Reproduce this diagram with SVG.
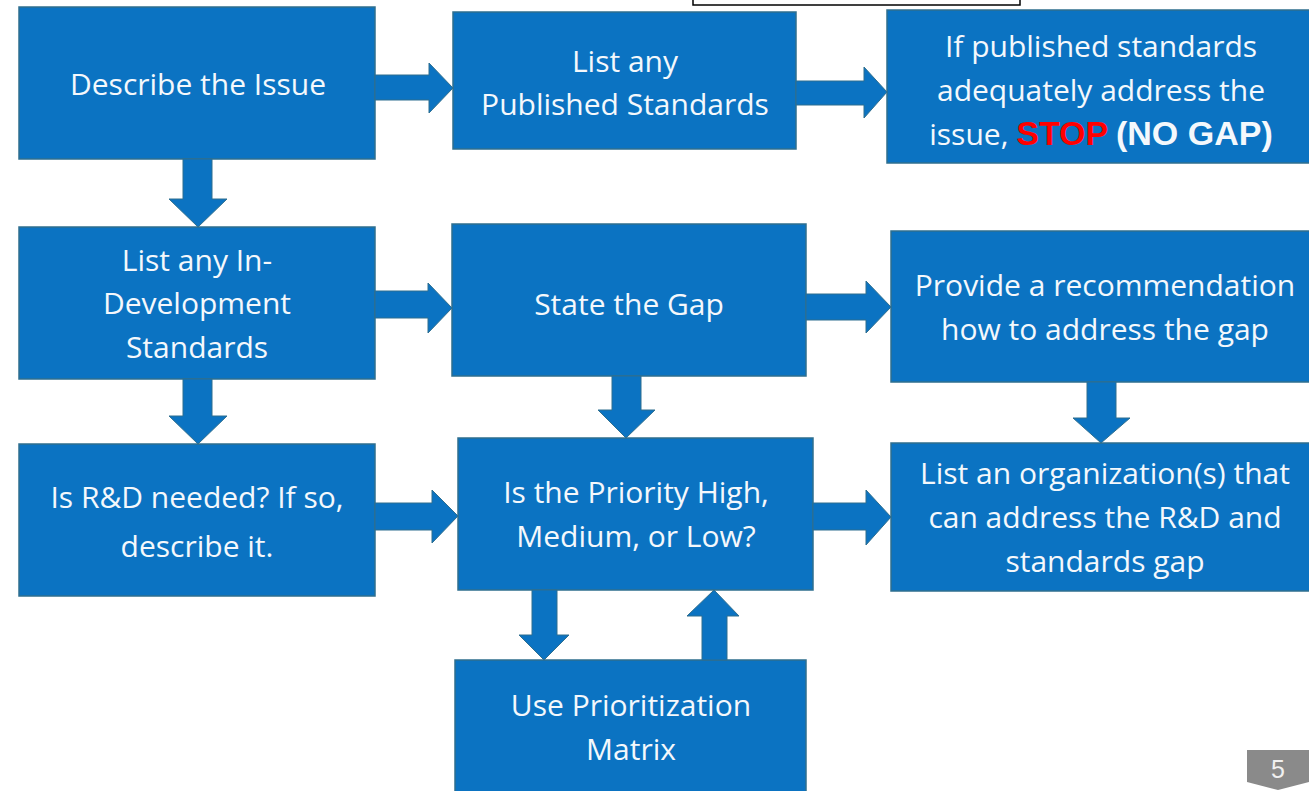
<svg xmlns="http://www.w3.org/2000/svg" width="1309" height="791" viewBox="0 0 1309 791">
<style>
.box{fill:#0b73c2;stroke:#2f6f8f;stroke-width:1.5}
.arr{fill:#0b73c2;stroke:#2f6f8f;stroke-width:1}
.t{font-family:"Open Sans","Noto Sans",sans-serif;font-size:30px;fill:#f4f8fc;text-anchor:middle}
.b{font-family:"Liberation Sans",Arial,sans-serif;font-weight:bold;font-size:34px}
</style>
<rect x="0" y="0" width="1309" height="791" fill="#ffffff"/>
<rect x="693" y="-2" width="327" height="7" fill="#ffffff" stroke="#000" stroke-width="1.5"/>
<g id="n1"><rect class="box" x="19" y="7" width="356" height="152"/><text class="t" x="198" y="95">Describe the Issue</text></g>
<g id="n2"><rect class="box" x="453" y="12" width="343" height="137"/><text class="t" x="625" y="72">List any</text><text class="t" x="625" y="115">Published Standards</text></g>
<g id="n3"><rect class="box" x="887" y="10" width="424" height="153"/><text class="t" x="1101" y="57">If published standards</text><text class="t" x="1101" y="101">adequately address the</text><text class="t" x="1101" y="145">issue, <tspan class="b" fill="#ff0000">STOP</tspan> <tspan class="b">(NO GAP)</tspan></text></g>
<g id="n4"><rect class="box" x="19" y="227" width="356" height="152"/><text class="t" x="197" y="271">List any In-</text><text class="t" x="197" y="314">Development</text><text class="t" x="197" y="358">Standards</text></g>
<g id="n5"><rect class="box" x="452" y="224" width="354" height="152"/><text class="t" x="629" y="315">State the Gap</text></g>
<g id="n6"><rect class="box" x="891" y="231" width="420" height="151"/><text class="t" x="1105" y="296">Provide a recommendation</text><text class="t" x="1105" y="340">how to address the gap</text></g>
<g id="n7"><rect class="box" x="19" y="444" width="356" height="152"/><text class="t" x="197" y="508">Is R&amp;D needed? If so,</text><text class="t" x="197" y="557">describe it.</text></g>
<g id="n8"><rect class="box" x="458" y="438" width="355" height="152"/><text class="t" x="636" y="503">Is the Priority High,</text><text class="t" x="636" y="547">Medium, or Low?</text></g>
<g id="n9"><rect class="box" x="891" y="443" width="420" height="148"/><text class="t" x="1105" y="484">List an organization(s) that</text><text class="t" x="1105" y="528">can address the R&amp;D and</text><text class="t" x="1105" y="572">standards gap</text></g>
<g id="n10"><rect class="box" x="455" y="660" width="351" height="135"/><text class="t" x="631" y="716">Use Prioritization</text><text class="t" x="631" y="760">Matrix</text></g>
<g id="connectors">
<path class="arr" d="M375,75 H429 V63 L453,88 L429,113 V100 H375 Z"/>
<path class="arr" d="M796,81 H864 V67 L887,92 L864,118 V105 H796 Z"/>
<path class="arr" d="M183,159 V199 H169 L198,227 L227,199 H212 V159 Z"/>
<path class="arr" d="M375,291 H428 V283 L452,308 L428,333 V318 H375 Z"/>
<path class="arr" d="M806,294 H866 V281 L891,307 L866,333 V320 H806 Z"/>
<path class="arr" d="M183,379 V416 H169 L198,444 L227,416 H212 V379 Z"/>
<path class="arr" d="M612,376 V410 H598 L626,438 L655,410 H641 V376 Z"/>
<path class="arr" d="M1087,382 V418 H1073 L1101,443 L1130,418 H1116 V382 Z"/>
<path class="arr" d="M375,503 H432 V490 L458,516 L432,543 V530 H375 Z"/>
<path class="arr" d="M813,503 H866 V490 L891,517 L866,545 V530 H813 Z"/>
<path class="arr" d="M532,590 V635 H519 L544,660 L569,635 H557 V590 Z"/>
<path class="arr" d="M702,660 V616 H687 L714,590 L739,616 H727 V660 Z"/>
</g>
<g id="page">
<path d="M1247,750 H1309 V782 L1278,790 L1247,782 Z" fill="#8a8a8a"/>
<text x="1278" y="778" font-family="Liberation Sans,Arial,sans-serif" font-size="25" fill="#f0f0f0" text-anchor="middle">5</text>
</g>
</svg>
